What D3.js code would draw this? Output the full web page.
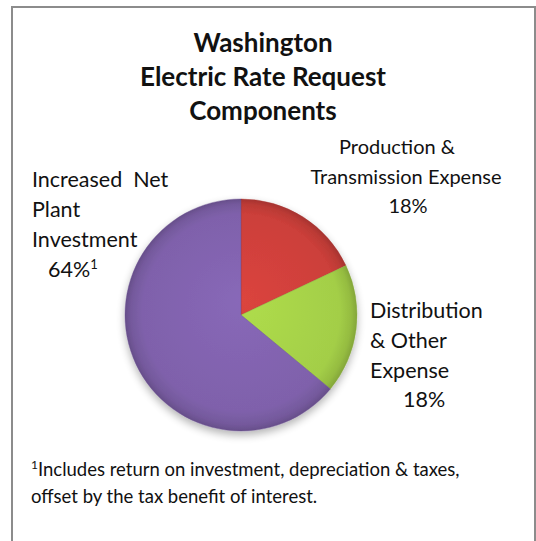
<!DOCTYPE html>
<html>
  <head>
    <meta charset=utf-8>
    <title>Washington Electric Rate Request Components</title>
    <style>
      body{ margin:0; background:#fff; }
      text{ font-family: Lato, "Open Sans", sans-serif; fill:#111; white-space:pre; }
    </style>
  </head>
  <body>
    <script src="https://d3js.org/d3.v7.min.js"></script>
    <script>
      var width = 536, height = 541;

      // data
      var categories = ["Production & Transmission Expense", "Distribution & Other Expense", "Increased Net Plant Investment"];
      var values = [18, 18, 64];
      var sliceColors = ["#cc3f3a", "#a3ce47", "#7f61ab"];
      var titleLines = ["Washington", "Electric Rate Request", "Components"];
      var footnoteLines = ["Includes return on investment, depreciation & taxes,", "offset by the tax benefit of interest."];

      var svg = d3.select("body").append("svg")
        .attr("width", width)
        .attr("height", height);

      // frame (no bottom edge in the picture)
      svg.append("path")
        .attr("d", "M12,541 L12,7 L535,7 L535,541")
        .style("fill", "none")
        .style("stroke", "#8c8c8c")
        .style("stroke-width", 2);

      // title
      svg.append("g").selectAll("text").data(titleLines).enter()
        .append("text")
          .attr("x", 263)
          .attr("y", function(d, i) { return 52 + i * 34; })
          .attr("text-anchor", "middle")
          .style("font-size", "26px")
          .style("font-weight", "bold")
          .text(function(d) { return d; });

      // pie
      var cx = 241, cy = 315, radius = 116;
      var defs = svg.append("defs");

      sliceColors.forEach(function(c, i) {
        var g = defs.append("radialGradient")
          .attr("id", "grad" + i)
          .attr("gradientUnits", "userSpaceOnUse")
          .attr("cx", 0).attr("cy", 0).attr("r", radius)
          .attr("fx", 0).attr("fy", -15);
        g.append("stop").attr("offset", "0%").attr("stop-color", d3.color(c).brighter(0.2));
        g.append("stop").attr("offset", "85%").attr("stop-color", c);
        g.append("stop").attr("offset", "95%").attr("stop-color", d3.color(c).darker(0.25));
        g.append("stop").attr("offset", "100%").attr("stop-color", d3.color(c).darker(0.6));
      });

      var shadow = defs.append("filter").attr("id", "shadow")
        .attr("x", "-20%").attr("y", "-20%").attr("width", "140%").attr("height", "140%");
      shadow.append("feGaussianBlur").attr("in", "SourceAlpha").attr("stdDeviation", 4);
      shadow.append("feOffset").attr("dy", 4).attr("result", "blur");
      var ct = shadow.append("feComponentTransfer");
      ct.append("feFuncA").attr("type", "linear").attr("slope", 0.3);
      var merge = shadow.append("feMerge");
      merge.append("feMergeNode");
      merge.append("feMergeNode").attr("in", "SourceGraphic");

      var pie = d3.pie().sort(null).value(function(d) { return d; });
      var arc = d3.arc().innerRadius(0).outerRadius(radius);

      var pieG = svg.append("g")
        .attr("transform", "translate(" + cx + "," + cy + ")")
        .attr("filter", "url(#shadow)");

      pieG.selectAll("path").data(pie(values)).enter()
        .append("path")
          .attr("d", arc)
          .style("fill", function(d, i) { return "url(#grad" + i + ")"; })
          .style("stroke", function(d, i) { return d3.color(sliceColors[i]).darker(0.5); })
          .style("stroke-width", 0.8)
          .style("stroke-opacity", 0.5);

      // labels, each line placed like the original text boxes
      function label(lines, anchor, size) {
        var t = svg.append("text").style("font-size", size + "px");
        lines.forEach(function(l) {
          t.append("tspan")
            .attr("x", l.x)
            .attr("y", l.y)
            .attr("text-anchor", anchor)
            .text(l.t);
          if (l.sup) {
            t.append("tspan").attr("dy", -8).style("font-size", "13px").text(l.sup);
          }
        });
      }

      label([
        {t: "Production &", x: 397, y: 154},
        {t: "Transmission Expense", x: 406, y: 184},
        {t: values[0] + "%", x: 408, y: 213}
      ], "middle", 20);

      label([
        {t: "Distribution", x: 370, y: 318},
        {t: "& Other", x: 370, y: 348},
        {t: "Expense", x: 370, y: 378},
        {t: values[1] + "%", x: 403, y: 407}
      ], "start", 21.5);

      label([
        {t: "Increased  Net", x: 32, y: 187},
        {t: "Plant", x: 32, y: 217},
        {t: "Investment", x: 32, y: 247},
        {t: values[2] + "%", x: 48, y: 277, sup: "1"}
      ], "start", 21.5);

      // footnote
      var fn = svg.append("text").style("font-size", "18.5px");
      fn.append("tspan").attr("x", 31).attr("y", 476)
        .attr("dy", -7).style("font-size", "12px").text("1");
      fn.append("tspan").attr("dy", 7).text(footnoteLines[0]);
      fn.append("tspan").attr("x", 31).attr("y", 503).text(footnoteLines[1]);
    </script>
  </body>
</html>
